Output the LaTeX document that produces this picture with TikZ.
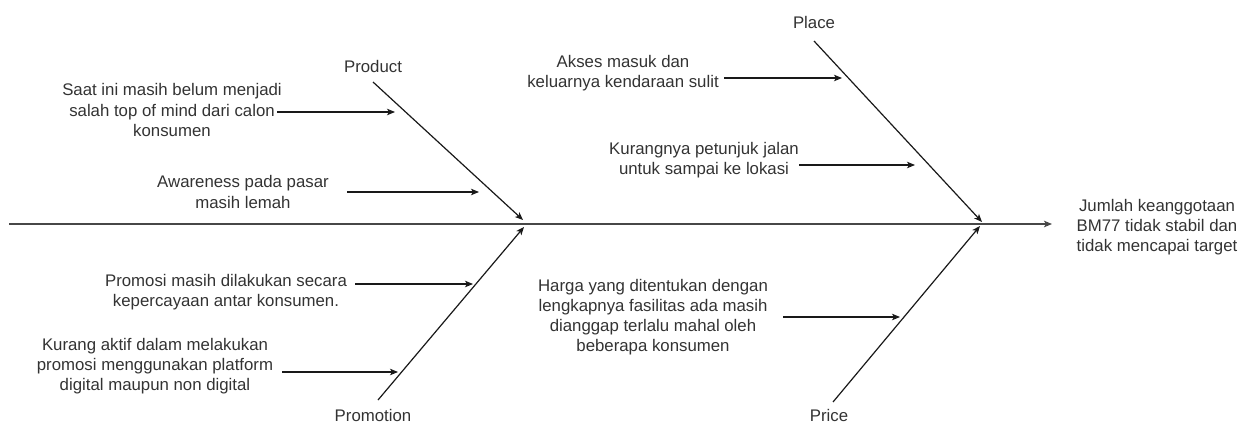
\documentclass[tikz,border=0pt]{standalone}
\usepackage{fontspec}
\setmainfont{Liberation Sans}
\usetikzlibrary{arrows.meta}
\definecolor{txt}{HTML}{333333}
\begin{document}
\begin{tikzpicture}[x=1pt,y=-1pt,
  lbl/.style={font=\fontsize{16.8}{20.2}\selectfont, text=txt, align=center, inner sep=0pt},
  arr/.style={-{Stealth[length=8pt,width=6.5pt,inset=2pt]}, line width=1.1pt, draw=black!90},
  bone/.style={arr, line width=1.2pt},
  spine/.style={arr, line width=1.7pt, draw=black!72}]
\useasboundingbox (0,0) rectangle (1249,423);

% effect
\node[lbl] (effect) at (1157,227) {Jumlah keanggotaan\\BM77 tidak stabil dan\\tidak mencapai target};
\coordinate (tail) at (9,224);
\coordinate (head) at (1052,224);
\draw[spine] (tail) -- (head);

% category labels
\node[lbl] (product) at (373,66) {Product};
\node[lbl] (promotion) at (373,415) {Promotion};
\node[lbl] (place) at (814,22) {Place};
\node[lbl] (price) at (829,415) {Price};

% bones
\coordinate (prodS) at (373,82);  \coordinate (prodE) at (523,220);
\coordinate (promS) at (378,400); \coordinate (promE) at (524,227);
\coordinate (plS) at (814,41);    \coordinate (plE) at (982,222);
\coordinate (prS) at (833,402);   \coordinate (prE) at (980,226);
\draw[bone] (prodS) -- (prodE);
\draw[bone] (promS) -- (promE);
\draw[bone] (plS) -- (plE);
\draw[bone] (prS) -- (prE);

% causes
\node[lbl] (c1) at (172,110) {Saat ini masih belum menjadi\\salah top of mind dari calon\\konsumen};
\node[lbl] (c2) at (243,192) {Awareness pada pasar\\masih lemah};
\node[lbl] (c3) at (226,292) {Promosi masih dilakukan secara\\kepercayaan antar konsumen.};
\node[lbl] (c4) at (155,366) {Kurang aktif dalam melakukan\\promosi menggunakan platform\\digital maupun non digital};
\node[lbl] (c5) at (623,73) {Akses masuk dan\\keluarnya kendaraan sulit};
\node[lbl] (c6) at (704,160) {Kurangnya petunjuk jalan\\untuk sampai ke lokasi};
\node[lbl] (c7) at (653,317) {Harga yang ditentukan dengan\\lengkapnya fasilitas ada masih\\dianggap terlalu mahal oleh\\beberapa konsumen};

% cause arrows
\coordinate (a1) at (277,112); \coordinate (b1) at (395,112);
\coordinate (a2) at (347,192); \coordinate (b2) at (479,192);
\coordinate (a3) at (355,284); \coordinate (b3) at (473,284);
\coordinate (a4) at (282,372); \coordinate (b4) at (398,372);
\coordinate (a5) at (724,78);  \coordinate (b5) at (842,78);
\coordinate (a6) at (799,165); \coordinate (b6) at (915,165);
\coordinate (a7) at (783,317); \coordinate (b7) at (900,317);
\foreach \i in {1,...,7} \draw[arr] (a\i) -- (b\i);
\end{tikzpicture}
\end{document}
